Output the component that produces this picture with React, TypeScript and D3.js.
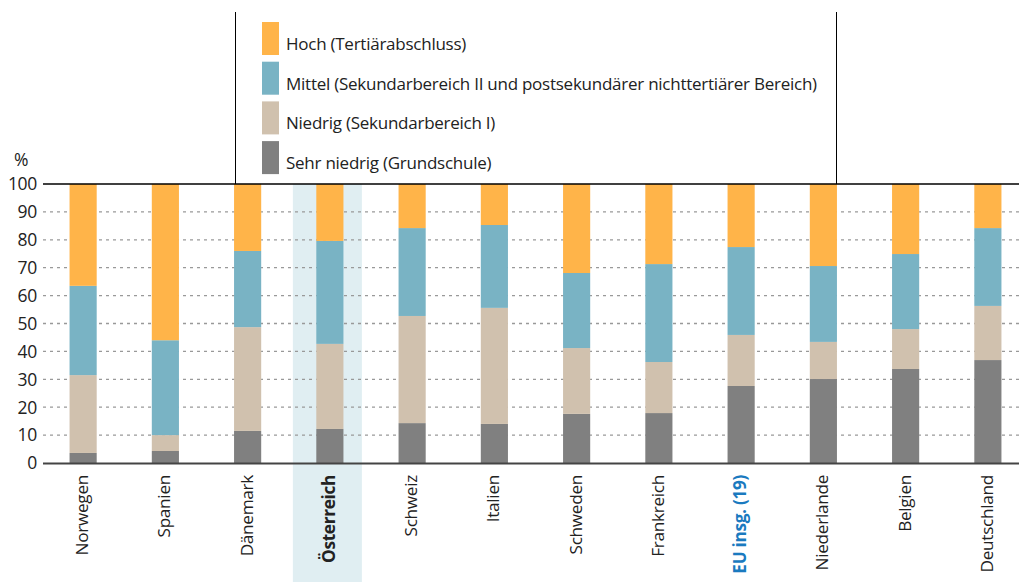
import React from 'react';
import * as d3 from 'd3';

// categories and values (percent)
const countries = ['Norwegen', 'Spanien', 'Dänemark', 'Österreich', 'Schweiz', 'Italien', 'Schweden', 'Frankreich', 'EU insg. (19)', 'Niederlande', 'Belgien', 'Deutschland'];
const sehrNiedrig = [3.6, 4.3, 11.5, 12.2, 14.3, 14.0, 17.6, 17.9, 27.6, 30.1, 33.7, 36.9];
const niedrig = [27.9, 5.7, 37.2, 30.5, 38.4, 41.6, 23.6, 18.3, 18.3, 13.3, 14.3, 19.4];
const mittel = [32.0, 34.0, 27.3, 36.9, 31.5, 29.7, 26.9, 35.1, 31.5, 27.2, 26.9, 27.9];
const hoch = [36.5, 56.0, 24.0, 20.4, 15.8, 14.7, 31.9, 28.7, 22.6, 29.4, 25.1, 15.8];

const seriesNames = ['Sehr niedrig (Grundschule)', 'Niedrig (Sekundarbereich I)', 'Mittel (Sekundarbereich II und postsekundärer nichttertiärer Bereich)', 'Hoch (Tertiärabschluss)'];
const seriesColors = ['#808080', '#d0c1ae', '#79b3c4', '#ffb449'];
const yTicks = [0, 10, 20, 30, 40, 50, 60, 70, 80, 90, 100];

const width = 1019;
const height = 582;
const font = '"Open Sans", "Noto Sans", sans-serif';

export default function App() {
  const rows = countries.map((c, i) => ({
    country: c,
    s0: sehrNiedrig[i],
    s1: niedrig[i],
    s2: mittel[i],
    s3: hoch[i],
  }));
  const stack = d3.stack<any>().keys(['s0', 's1', 's2', 's3'])(rows);

  const x = d3.scaleBand().domain(countries).range([42, 1029]).paddingInner(0.67).paddingOuter(0.335);
  const y = d3.scaleLinear().domain([0, 100]).range([463, 184]);

  const hl = x('Österreich')! + x.bandwidth() / 2;

  return (
    <svg width={width} height={height} style={{ position: 'absolute', left: 0, top: 0, background: '#fff' }} fontFamily={font}>
      {/* highlight band */}
      <rect x={hl - 37} y={184} width={69} height={height - 184} fill="#e0eef2" />

      {/* grid */}
      {yTicks.filter(t => t > 0 && t < 100).map(t => (
        <line key={t} x1={43} x2={width} y1={y(t)} y2={y(t)} stroke="#999" strokeWidth={1.3} strokeDasharray="3 4" />
      ))}

      {/* bars */}
      {stack.map((s, si) => (
        <g key={si} fill={seriesColors[si]}>
          {s.map((d: any, i) => (
            <rect key={i} x={x(countries[i])} width={x.bandwidth()} y={y(d[1])} height={y(d[0]) - y(d[1])} />
          ))}
        </g>
      ))}

      {/* axes */}
      <line x1={43} x2={width} y1={184} y2={184} stroke="#000" strokeWidth={1.5} />
      <line x1={43} x2={width} y1={463.5} y2={463.5} stroke="#444" strokeWidth={2} />

      {/* legend frame */}
      <line x1={235.5} x2={235.5} y1={12} y2={184} stroke="#000" strokeWidth={1} />
      <line x1={836.5} x2={836.5} y1={12} y2={184} stroke="#000" strokeWidth={1} />

      {/* y tick labels */}
      {yTicks.map(t => (
        <text key={t} x={37} y={y(t)} dy="0.36em" textAnchor="end" fontSize={17.5} fill="#222" letterSpacing={-0.3}>{t}</text>
      ))}
      <text x={14} y={166} fontSize={17.5} fill="#222">%</text>

      {/* legend */}
      {[3, 2, 1, 0].map((si, k) => (
        <g key={si} transform={`translate(262, ${22 + k * 39.7})`}>
          <rect width={17} height={33} fill={seriesColors[si]} />
          <text x={24} y={28} fontSize={17} fill="#222" letterSpacing={-0.25}>{seriesNames[si]}</text>
        </g>
      ))}

      {/* x labels */}
      {countries.map((c, i) => {
        const cx = x(c)! + x.bandwidth() / 2;
        const bold = c === 'Österreich' || c === 'EU insg. (19)';
        return (
          <text key={c} transform={`translate(${cx + 5}, 475) rotate(-90)`} textAnchor="end" fontSize={17.2}
            fontWeight={bold ? 700 : 400} fill={c === 'EU insg. (19)' ? '#1a7abf' : '#222'} letterSpacing={-0.3}>
            {c}
          </text>
        );
      })}
    </svg>
  );
}
